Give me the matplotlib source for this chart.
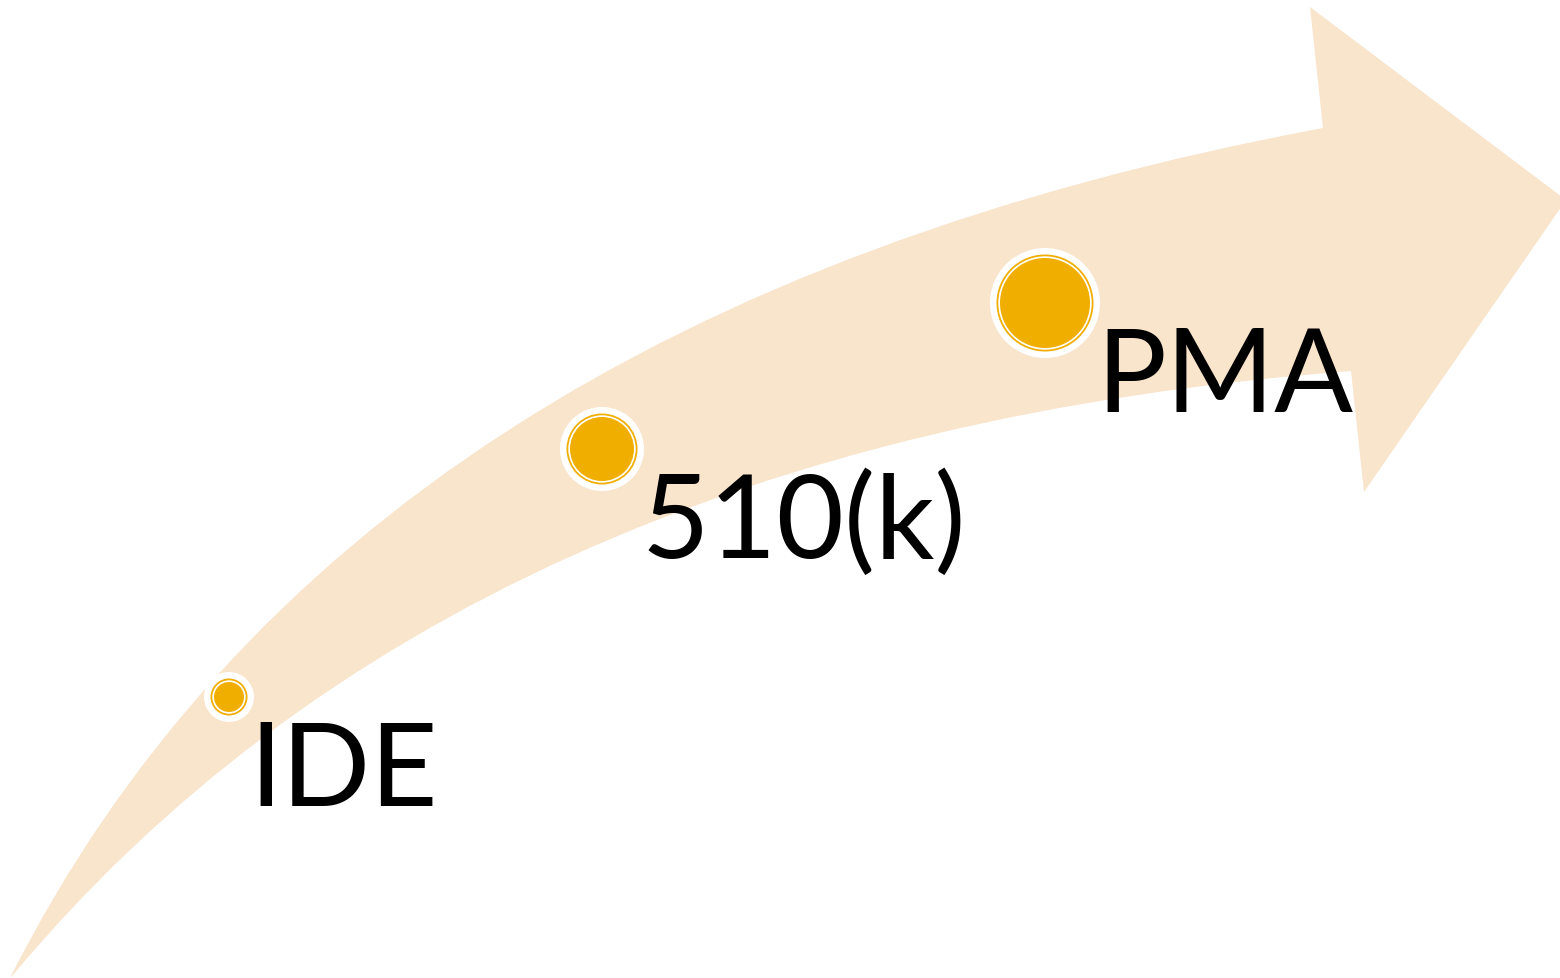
"""
Regulatory pathway arrow: IDE -> 510(k) -> PMA.
"""

import matplotlib

matplotlib.use("Agg")
import matplotlib.pyplot as plt
from matplotlib.patches import Circle, PathPatch
from matplotlib.path import Path

# ---------- data ---------------------------------------------------------------

stages = ["IDE", "510(k)", "PMA"]
stage_level = [1, 2, 3]  # bigger dot = later / heavier pathway

# ---------- layout (pixel space of the 1560 x 979 canvas) ---------------------

W, H = 1560, 979
ARROW_COLOR = "#F9E4CC"
DOT_COLOR = "#F0AE00"

dot_centers = [(229, 698), (602, 450), (1045, 304)]
dot_radius = {1: 25, 2: 42, 3: 55}
label_anchor = [(249, 806), (641, 558), (1096, 412)]

# curved band + arrow head
arrow_verts = [
    (10, 979),
    (346, 311), (1323, 129),
    (1310, 8),
    (1566, 201),
    (1364, 493),
    (1351, 372),
    (460, 440), (12, 977),
    (10, 979),
]
arrow_codes = [
    Path.MOVETO,
    Path.CURVE3, Path.CURVE3,
    Path.LINETO,
    Path.LINETO,
    Path.LINETO,
    Path.LINETO,
    Path.CURVE3, Path.CURVE3,
    Path.CLOSEPOLY,
]

fig = plt.figure(figsize=(W / 100, H / 100), dpi=100)
ax = fig.add_axes([0, 0, 1, 1])
ax.set_xlim(0, W)
ax.set_ylim(H, 0)
ax.axis("off")

ax.add_patch(PathPatch(Path(arrow_verts, arrow_codes), facecolor=ARROW_COLOR,
                       edgecolor="none", zorder=1))

for (cx, cy), lvl in zip(dot_centers, stage_level):
    r = dot_radius[lvl]
    # white halo, orange ring, thin white gap, orange core
    ax.add_patch(Circle((cx, cy), r, facecolor="white", edgecolor="none", zorder=2))
    ax.add_patch(Circle((cx, cy), r - 6.5, facecolor=DOT_COLOR, edgecolor="none", zorder=3))
    ax.add_patch(Circle((cx, cy), r - 8.3, facecolor="white", edgecolor="none", zorder=4))
    ax.add_patch(Circle((cx, cy), r - 10, facecolor=DOT_COLOR, edgecolor="none", zorder=5))

for name, (tx, ty) in zip(stages, label_anchor):
    ax.text(tx, ty, name, fontsize=84, family=["Lato", "DejaVu Sans"],
            ha="left", va="baseline", color="black", zorder=6)

fig.savefig("out.png", dpi=100)
plt.close(fig)
